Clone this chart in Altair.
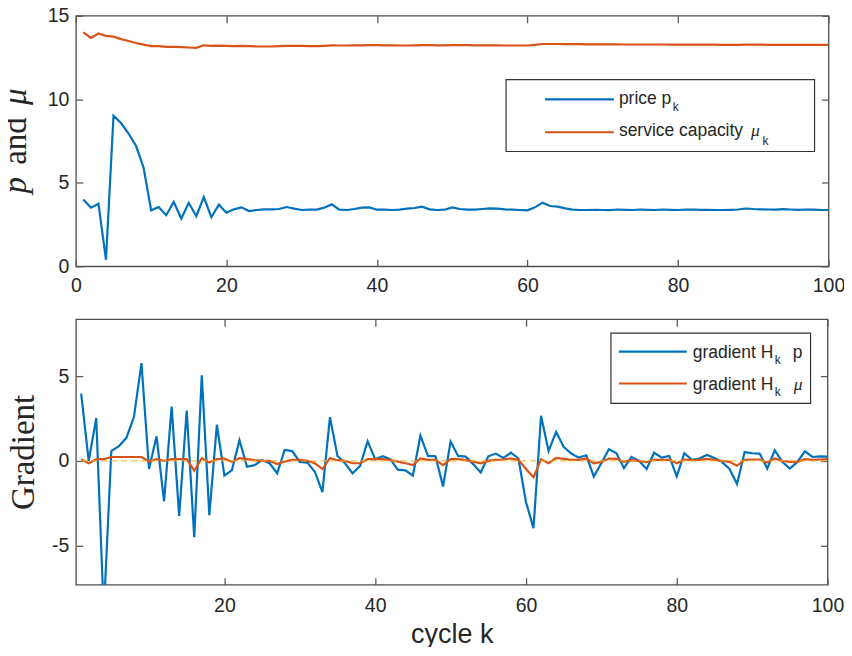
import altair as alt
import pandas as pd

# ---------------- data ----------------
k = list(range(1, 101))

price = [4.00, 3.51, 3.75, 0.39, 9.01, 8.58, 7.95, 7.20, 5.90, 3.35,
         3.55, 3.06, 3.85, 2.86, 3.80, 3.00, 4.14, 2.94, 3.69, 3.21,
         3.41, 3.53, 3.31, 3.37, 3.41, 3.41, 3.43, 3.55, 3.45, 3.37,
         3.39, 3.39, 3.51, 3.71, 3.39, 3.37, 3.43, 3.51, 3.53, 3.39,
         3.39, 3.37, 3.39, 3.45, 3.49, 3.57, 3.41, 3.37, 3.39, 3.53,
         3.43, 3.39, 3.39, 3.43, 3.47, 3.45, 3.41, 3.39, 3.37, 3.35,
         3.53, 3.81, 3.61, 3.57, 3.47, 3.39, 3.37, 3.37, 3.38, 3.37,
         3.36, 3.40, 3.38, 3.37, 3.40, 3.38, 3.37, 3.40, 3.38, 3.37,
         3.39, 3.40, 3.38, 3.38, 3.37, 3.37, 3.38, 3.40, 3.46, 3.43,
         3.41, 3.40, 3.39, 3.42, 3.40, 3.38, 3.40, 3.39, 3.37, 3.37]

capacity = [14.00, 13.67, 13.94, 13.80, 13.75, 13.60, 13.49, 13.37, 13.27, 13.18,
            13.18, 13.14, 13.14, 13.12, 13.10, 13.08, 13.23, 13.20, 13.21, 13.20,
            13.18, 13.20, 13.18, 13.16, 13.16, 13.16, 13.18, 13.20, 13.20, 13.20,
            13.18, 13.18, 13.20, 13.23, 13.22, 13.22, 13.23, 13.23, 13.24, 13.24,
            13.23, 13.23, 13.22, 13.22, 13.23, 13.24, 13.24, 13.23, 13.23, 13.24,
            13.24, 13.24, 13.23, 13.23, 13.23, 13.23, 13.22, 13.22, 13.22, 13.22,
            13.26, 13.31, 13.31, 13.31, 13.30, 13.30, 13.30, 13.29, 13.29, 13.29,
            13.29, 13.29, 13.28, 13.28, 13.28, 13.28, 13.28, 13.28, 13.27, 13.27,
            13.27, 13.27, 13.27, 13.27, 13.27, 13.26, 13.26, 13.26, 13.27, 13.27,
            13.27, 13.26, 13.26, 13.26, 13.26, 13.26, 13.26, 13.26, 13.26, 13.26]

grad_p = [3.97, 0.00, 2.52, -9.00, 0.58, 0.87, 1.36, 2.58, 5.76, -0.48,
          1.45, -2.38, 3.20, -3.24, 2.97, -4.50, 5.04, -3.20, 2.13, -0.87,
          -0.54, 1.22, -0.35, -0.25, 0.04, -0.14, -0.74, 0.64, 0.58, -0.06,
          -0.10, -0.64, -1.84, 2.58, 0.29, -0.14, -0.74, -0.29, 1.16, 0.10,
          0.27, 0.10, -0.52, -0.56, -0.87, 1.49, 0.29, 0.27, -1.51, 1.14,
          0.29, 0.25, -0.19, -0.68, 0.27, 0.43, 0.17, 0.48, 0.14, -2.42,
          -3.97, 2.66, 0.58, 1.71, 0.83, 0.43, 0.19, 0.33, -0.93, -0.14,
          0.68, 0.45, -0.43, 0.23, 0.00, -0.48, 0.48, 0.19, 0.29, -0.91,
          0.45, 0.06, 0.14, 0.35, 0.17, -0.06, -0.48, -1.36, 0.52, 0.45,
          0.43, -0.45, 0.62, -0.06, -0.45, -0.06, 0.56, 0.23, 0.27, 0.25]

grad_mu = [0.10, -0.14, 0.10, 0.10, 0.23, 0.23, 0.23, 0.23, 0.23, -0.04,
           0.10, 0.00, 0.10, 0.10, 0.10, -0.58, 0.16, -0.10, 0.10, 0.14,
           -0.06, 0.16, 0.10, 0.04, 0.00, 0.00, -0.19, -0.04, 0.06, 0.06,
           0.00, -0.14, -0.48, 0.16, 0.04, 0.00, -0.14, -0.14, 0.10, 0.10,
           0.10, 0.06, -0.04, -0.14, -0.25, 0.14, 0.06, 0.06, -0.25, 0.10,
           0.10, 0.04, -0.04, -0.14, 0.00, 0.06, 0.08, 0.14, 0.06, -0.48,
           -0.97, 0.10, -0.14, 0.17, 0.12, 0.06, 0.06, 0.14, -0.14, -0.06,
           0.14, 0.12, -0.06, 0.04, 0.00, -0.08, 0.06, 0.06, 0.06, -0.14,
           0.08, 0.04, 0.06, 0.12, 0.06, 0.00, -0.06, -0.29, 0.06, 0.08,
           0.08, -0.10, 0.14, 0.00, -0.06, -0.06, 0.10, 0.06, 0.08, 0.10]

top_x_ticks = [0, 20, 40, 60, 80, 100]
top_y_ticks = [0, 5, 10, 15]
bot_x_ticks = [20, 40, 60, 80, 100]
bot_y_ticks = [-5, 0, 5]

# ---------------- style ----------------
BLUE = "#0072BD"
ORANGE = "#D95319"
YELLOW = "#EDB120"
AX = "#262626"
FRAME = "#4d4d4d"
TICKC = "#5a5a5a"
SANS = "Liberation Sans"
SERIF = "Liberation Serif"
TICK = 7
W1, H1 = 754, 251
W2, H2 = 753, 266
DX1 = W1 - 760     # legend shift (legends are anchored near the right edge)
DX2 = W2 - 759
LFS = 17.5   # legend font size
SFS = 12     # subscript font size
LW = 2.2
TFS = 33     # y title font size

ARIAL = {" ": 278, "a": 556, "c": 500, "d": 556, "e": 556, "g": 556, "i": 222,
         "k": 500, "n": 556, "p": 556, "r": 333, "s": 500, "t": 278, "v": 500,
         "y": 500, "H": 722}


def tw(s, size):
    return sum(ARIAL[c] for c in s) / 1000.0 * size


df_top = pd.DataFrame({"k": k, "price": price, "capacity": capacity})
df_bot = pd.DataFrame({"k": k, "gp": grad_p, "gmu": grad_mu})
one = pd.DataFrame({"d": [0]})


def ax(orient, values, labels=True, pad=7, **kw):
    return alt.Axis(orient=orient, values=values, offset=-TICK, tickSize=TICK,
                    labels=labels, labelPadding=pad, labelFlush=False,
                    domain=False, grid=False,
                    labelExpr="replace(datum.label, '\u2212', '-')", **kw)


def txt(x, y, s, size=LFS, font=SANS, style="normal", angle=0):
    return alt.Chart(one).mark_text(align="left", baseline="alphabetic", font=font,
                                    fontSize=size, fontStyle=style, color=AX,
                                    angle=angle).encode(
        x=alt.value(x), y=alt.value(y), text=alt.value(s))


def box(x1, x2, y1, y2):
    return alt.Chart(one).mark_rect(fill="white", stroke="#333333", strokeWidth=1.2).encode(
        x=alt.value(x1), x2=alt.value(x2), y=alt.value(y1), y2=alt.value(y2))


def seg(x1, x2, y, color):
    return alt.Chart(one).mark_rule(color=color, strokeWidth=LW).encode(
        x=alt.value(x1), x2=alt.value(x2), y=alt.value(y))


# ---------------- top panel ----------------
xs1 = alt.Scale(domain=[0, 100], nice=False, zero=False)
ys1 = alt.Scale(domain=[0, 15], nice=False, zero=False)

top_price = alt.Chart(df_top).mark_line(color=BLUE, strokeWidth=LW, clip=True).encode(
    x=alt.X("k:Q", scale=xs1, axis=ax("bottom", top_x_ticks, pad=10, title=None)),
    y=alt.Y("price:Q", scale=ys1, axis=ax("left", top_y_ticks, pad=7, title=None)),
)
top_cap = alt.Chart(df_top).mark_line(color=ORANGE, strokeWidth=LW, clip=True).encode(
    x=alt.X("k:Q", scale=xs1, axis=ax("top", top_x_ticks, labels=False, title=None)),
    y=alt.Y("capacity:Q", scale=ys1, axis=ax("right", top_y_ticks, labels=False, title=None)),
)

# y title "p and mu" (math italic p and mu), rotated, reading upwards
tx_t = -50
gap = 4
w_p = 0.5 * TFS
w_sp = 0.25 * TFS
w_and = (0.444 + 0.5 + 0.5) * TFS
total = w_p + w_sp + gap + w_and + w_sp + gap + 0.5 * TFS
y_p = H1 / 2 + total / 2
y_and = y_p - w_p - w_sp - gap
y_mu = y_and - w_and - w_sp - gap
top_title = [
    txt(tx_t, y_p, "p", TFS, SERIF, "italic", 270),
    txt(tx_t, y_and, "and", TFS, SERIF, "normal", 270),
    txt(tx_t, y_mu, "\u03bc", TFS, SERIF, "italic", 270),
]

# legend (top) in plot-pixel coordinates
tx = 550 + DX1
r1, r2 = 88.5, 120.5
s1 = "price p"
s2 = "service capacity "
k1x = tx + tw(s1, LFS) + 1.5
mu_x = tx + tw(s2, LFS) + 3
k2x = mu_x + 11.5
top_legend = [
    box(437 + DX1, 746 + DX1, 64, 136),
    seg(476 + DX1, 545 + DX1, 83.7, BLUE),
    seg(476 + DX1, 545 + DX1, 116.7, ORANGE),
    txt(tx, r1, s1), txt(k1x, r1 + 6.5, "k", SFS),
    txt(tx, r2, s2.rstrip()), txt(mu_x, r2, "\u03bc", LFS, SERIF, "italic"),
    txt(k2x, r2 + 8.5, "k", SFS),
]

top = alt.layer(top_price, top_cap, *top_title, *top_legend).resolve_axis(
    x="independent", y="independent").properties(width=W1, height=H1)

# ---------------- bottom panel ----------------
xs2 = alt.Scale(domain=[0.3, 100], nice=False, zero=False)
ys2 = alt.Scale(domain=[-7.3, 8.35], nice=False, zero=False)

bot_p = alt.Chart(df_bot).mark_line(color=BLUE, strokeWidth=LW, clip=True).encode(
    x=alt.X("k:Q", scale=xs2, axis=ax("bottom", bot_x_ticks, pad=12, title="cycle k",
                                      titleFont=SANS, titleFontSize=27,
                                      titleFontWeight="normal", titleColor=AX,
                                      titleBaseline="alphabetic", titleY=65)),
    y=alt.Y("gp:Q", scale=ys2, axis=ax("left", bot_y_ticks, pad=7, title="Gradient",
                                       titleFont=SERIF, titleFontSize=TFS,
                                       titleFontWeight="normal", titleColor=AX,
                                       titlePadding=11)),
)
bot_mu = alt.Chart(df_bot).mark_line(color=ORANGE, strokeWidth=LW, clip=True).encode(
    x=alt.X("k:Q", scale=xs2, axis=ax("top", bot_x_ticks, labels=False, title=None)),
    y=alt.Y("gmu:Q", scale=ys2, axis=ax("right", bot_y_ticks, labels=False, title=None)),
)
zero_line = alt.Chart(one).mark_rule(color=YELLOW, strokeWidth=1, strokeDash=[6, 4]).encode(
    x=alt.X(datum=1, axis=None), x2=alt.X2(datum=100), y=alt.Y(datum=0, axis=None))

btx = 624 + DX2
b1, b2 = 38.4, 70.7
g = "gradient H"
bk = btx + tw(g, LFS) + 1.5
after = bk + 6 + 12
bot_legend = [
    box(542 + DX2, 742 + DX2, 14, 84.4),
    seg(550 + DX2, 618 + DX2, 32.4, BLUE),
    seg(550 + DX2, 618 + DX2, 64.4, ORANGE),
    txt(btx, b1, g), txt(bk, b1 + 6, "k", SFS), txt(after, b1, "p"),
    txt(btx, b2, g), txt(bk, b2 + 6, "k", SFS), txt(after + 1, b2, "\u03bc", LFS, SERIF, "italic"),
]

bottom = alt.layer(bot_p, bot_mu, zero_line, *bot_legend).resolve_axis(
    x="independent", y="independent").properties(width=W2, height=H2)

chart = alt.vconcat(top, bottom, spacing=21).properties(
    padding={"left": -9, "top": -3.8, "right": -1.5, "bottom": -2}
).configure_view(stroke=FRAME, strokeWidth=1.3).configure_axis(
    labelFont=SANS, labelFontSize=19.5, labelColor=AX, tickColor=TICKC, tickWidth=1.3
)

chart.save("out.html", embed_options={"renderer": "svg", "actions": False})
